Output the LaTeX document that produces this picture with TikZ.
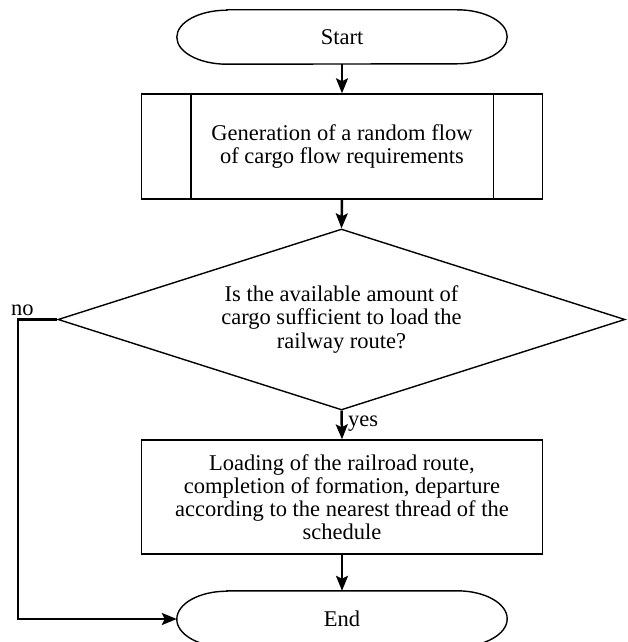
\documentclass[tikz,border=0pt]{standalone}
\usepackage{fontspec}
\setmainfont{Liberation Serif}
\usetikzlibrary{arrows.meta,shapes.geometric}
\begin{document}
\begin{tikzpicture}[x=1pt,y=1pt,
  every node/.style={font=\fontsize{22.5}{23.2}\selectfont, align=center, inner sep=0pt},
  shapeline/.style={draw=black, line width=1.4pt},
  procbox/.style={shapeline, minimum width=401pt},
  conn/.style={draw=black, line width=2.5pt, -{Stealth[length=15pt,width=12pt,inset=3pt]}},
  lbl/.style={anchor=base west}
]
\useasboundingbox (0,0) rectangle (627,-642);
\fill[white] (0,0) rectangle (627,-642);

% Start terminator
\node[minimum width=330pt, minimum height=54pt] (start) at (342,-37) {Start};
\draw[shapeline] ([xshift=50pt]start.north west) -- ([xshift=-50pt]start.north east)
  arc[start angle=90, end angle=-90, x radius=50pt, y radius=27pt]
  -- ([xshift=50pt]start.south west)
  arc[start angle=270, end angle=90, x radius=50pt, y radius=27pt] -- cycle;

% Predefined process
\node[procbox, minimum height=105pt] (gen) at (342,-146.5) {Generation of a random flow\\of cargo flow requirements};
\draw[shapeline] ([xshift=50pt]gen.north west) -- ([xshift=50pt]gen.south west);
\draw[shapeline] ([xshift=-50pt]gen.north east) -- ([xshift=-50pt]gen.south east);

% Decision
\node[shapeline, diamond, aspect=3.13, minimum width=567pt, minimum height=181pt] (dec) at (341.5,-319.5)
  {Is the available amount of\\cargo sufficient to load the\\railway route?};

% Process
\node[procbox, minimum height=114pt] (load) at (342,-497)
  {Loading of the railroad route,\\completion of formation, departure\\according to the nearest thread of the\\schedule};

% End terminator
\node[minimum width=330pt, minimum height=56pt] (end) at (342,-619) {End};
\draw[shapeline] ([xshift=50pt]end.north west) -- ([xshift=-50pt]end.north east)
  arc[start angle=90, end angle=-90, x radius=50pt, y radius=28pt]
  -- ([xshift=50pt]end.south west)
  arc[start angle=270, end angle=90, x radius=50pt, y radius=28pt] -- cycle;

% Connectors
\coordinate (nocorner) at (18,-319.5);
\draw[conn] (start.south) -- (gen.north);
\draw[conn] (gen.south) -- (dec.north);
\draw[conn] (dec.south) -- (load.north);
\draw[conn] (load.south) -- (end.north);
\draw[conn] (dec.west) -- (nocorner) |- (end.west);

% Labels
\node[lbl] (nolbl) at (11,-315) {no};
\node[lbl] (yeslbl) at (348,-426) {yes};
\end{tikzpicture}
\end{document}
